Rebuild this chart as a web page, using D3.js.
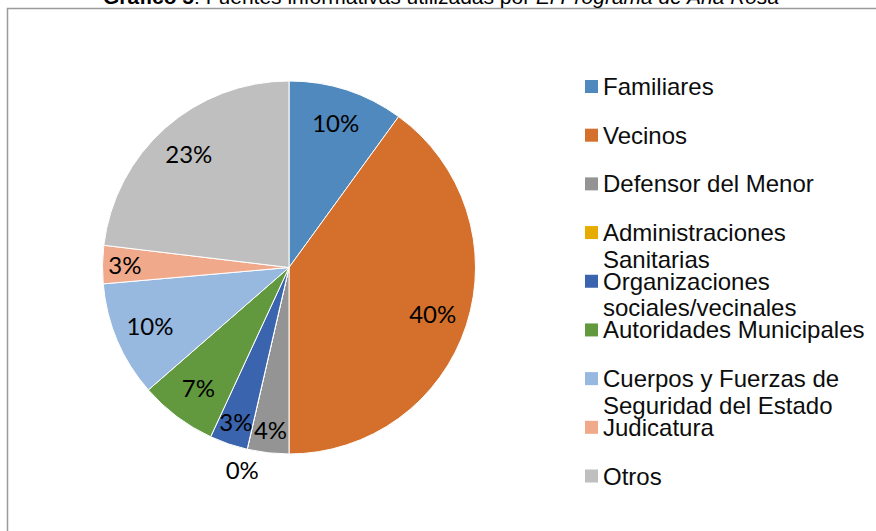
<!DOCTYPE html>
<html lang="es">
  <head>
    <meta charset="UTF-8" />
    <title>Gráfico 5</title>
    <script src="https://d3js.org/d3.v7.min.js"></script>
    <style>
      body {
        margin: 0;
        background: #fff;
      }
      .title {
        font-family: "Liberation Sans", Arial, sans-serif;
        font-size: 21px;
        fill: #000;
      }
      .pct {
        font-family: Lato, "Noto Sans", sans-serif;
        font-size: 24px;
        fill: #000;
      }
      .legend text {
        font-family: "Liberation Sans", Arial, sans-serif;
        font-size: 24px;
        fill: #0d0d0d;
      }
    </style>
  </head>
  <body>
    <script>
      var categories = [
        "Familiares",
        "Vecinos",
        "Defensor del Menor",
        "Administraciones Sanitarias",
        "Organizaciones sociales/vecinales",
        "Autoridades Municipales",
        "Cuerpos y Fuerzas de Seguridad del Estado",
        "Judicatura",
        "Otros",
      ];
      // legend lines as they wrap in the original
      var legendLines = [
        ["Familiares"],
        ["Vecinos"],
        ["Defensor del Menor"],
        ["Administraciones", "Sanitarias"],
        ["Organizaciones", "sociales/vecinales"],
        ["Autoridades Municipales"],
        ["Cuerpos y Fuerzas de", "Seguridad del Estado"],
        ["Judicatura"],
        ["Otros"],
      ];
      var values = [10, 40, 3.6, 0, 3.3, 6.7, 10, 3.3, 23.1];
      var colors = [
        "#4f89bd",
        "#d4702b",
        "#949494",
        "#e6ad00",
        "#3a64ae",
        "#62993e",
        "#97b8df",
        "#f0a98b",
        "#bfbfbf",
      ];

      var width = 876,
        height = 531;

      var svg = d3
        .select("body")
        .append("svg")
        .attr("width", width)
        .attr("height", height);

      // frame of the chart area (cut off at the right and bottom)
      svg
        .append("rect")
        .attr("x", 7.5)
        .attr("y", 8.5)
        .attr("width", 900)
        .attr("height", 600)
        .attr("fill", "none")
        .attr("stroke", "#9a9a9a")
        .attr("stroke-width", 1.5);

      var title = svg
        .append("text")
        .attr("class", "title")
        .attr("x", 103)
        .attr("y", 4);
      title.append("tspan").style("font-weight", "bold").text("Gráfico 5");
      title.append("tspan").text(": Fuentes informativas utilizadas por ");
      title
        .append("tspan")
        .style("font-style", "italic")
        .text("El Programa de Ana Rosa");

      var cx = 289,
        cy = 267.5,
        radius = 186.5;

      var color = d3.scaleOrdinal().domain(categories).range(colors);

      var pie = d3
        .pie()
        .sort(null)
        .value(function (d) {
          return d.value;
        });

      var data = categories.map(function (c, i) {
        return { name: c, value: values[i] };
      });
      var arcs = pie(data);
      var total = d3.sum(values);

      var arc = d3.arc().innerRadius(0).outerRadius(radius);

      var g = svg
        .append("g")
        .attr("transform", "translate(" + cx + "," + cy + ")");

      g.selectAll(".slice")
        .data(arcs)
        .enter()
        .append("path")
        .attr("class", "slice")
        .attr("d", arc)
        .attr("fill", function (d) {
          return color(d.data.name);
        })
        .attr("stroke", "#fff")
        .attr("stroke-width", 1);

      function labelRadius(d) {
        if (d.data.value === 0) return radius + 22;
        if (d.data.value < 5) return radius * 0.88;
        return radius * 0.81;
      }

      g.selectAll(".pct")
        .data(arcs)
        .enter()
        .append("text")
        .attr("class", "pct")
        .attr("text-anchor", "middle")
        .attr("dy", "0.36em")
        .attr("transform", function (d) {
          var r = labelRadius(d);
          var a = (d.startAngle + d.endAngle) / 2;
          return (
            "translate(" + r * Math.sin(a) + "," + -r * Math.cos(a) + ")"
          );
        })
        .text(function (d) {
          return Math.round((d.data.value / total) * 100) + "%";
        });

      // legend
      var ly = d3.scalePoint().domain(categories).range([86.5, 476]);

      var legend = svg
        .selectAll(".legend")
        .data(categories)
        .enter()
        .append("g")
        .attr("class", "legend")
        .attr("transform", function (d) {
          return "translate(585," + ly(d) + ")";
        });

      legend
        .append("rect")
        .attr("x", 0)
        .attr("y", -6.5)
        .attr("width", 13)
        .attr("height", 13)
        .attr("fill", function (d) {
          return color(d);
        });

      legend
        .append("text")
        .attr("x", 18)
        .attr("y", 8.5)
        .each(function (d, i) {
          var t = d3.select(this);
          legendLines[i].forEach(function (line, j) {
            t.append("tspan")
              .attr("x", 18)
              .attr("dy", j === 0 ? 0 : 26.5)
              .text(line);
          });
        });
    </script>
  </body>
</html>
